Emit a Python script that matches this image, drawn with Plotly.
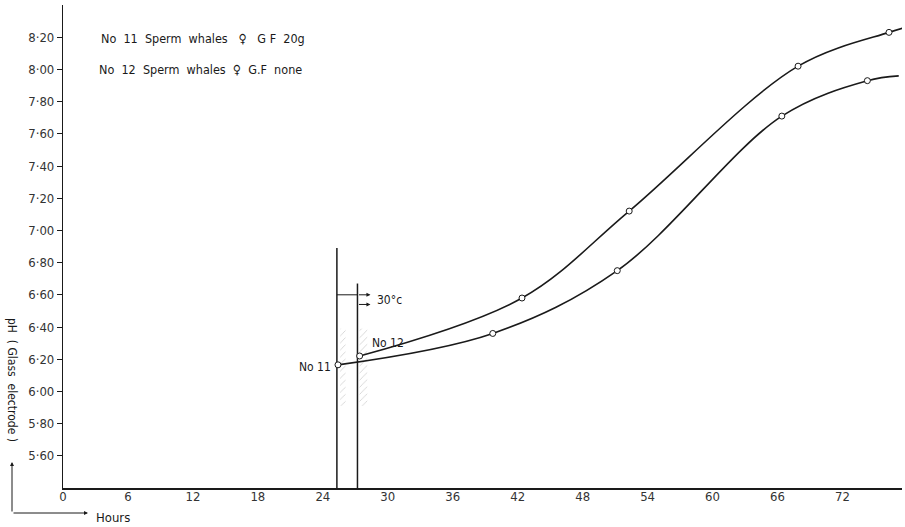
import plotly.graph_objects as go

# ---- data ----
hours_no11 = [25.4, 39.7, 51.2, 66.4, 74.3]
ph_no11 = [6.165, 6.36, 6.75, 7.71, 7.93]
hours_no12 = [27.4, 42.4, 52.3, 67.9, 76.3]
ph_no12 = [6.22, 6.58, 7.12, 8.02, 8.23]
tail_no11 = (77.2, 7.96)
tail_no12 = (77.8, 8.26)

x_ticks = [0, 6, 12, 18, 24, 30, 36, 42, 48, 54, 60, 66, 72]
y_ticks = [5.6, 5.8, 6.0, 6.2, 6.4, 6.6, 6.8, 7.0, 7.2, 7.4, 7.6, 7.8, 8.0, 8.2]
y_ticktext = ["5·60", "5·80", "6·00", "6·20", "6·40", "6·60", "6·80", "7·00",
              "7·20", "7·40", "7·60", "7·80", "8·00", "8·20"]

# vertical markers (start of incubation at 30°C)
vline_no11 = (25.3, 6.89)
vline_no12 = (27.2, 6.67)
hatch_x_no11 = [25.6, 26.1]
hatch_x_no12 = [27.4, 28.1]
hatch_ph = [5.91, 6.39]

FONT = "Liberation Sans Narrow, DejaVu Sans Condensed, Arial Narrow, sans-serif"
INK = "#1a1a1a"

fig = go.Figure()

# hatched zones
for hx in (hatch_x_no11, hatch_x_no12):
    fig.add_trace(go.Scatter(
        x=[hx[0], hx[1], hx[1], hx[0], hx[0]],
        y=[hatch_ph[0], hatch_ph[0], hatch_ph[1], hatch_ph[1], hatch_ph[0]],
        mode="lines", line=dict(width=0, color="rgba(0,0,0,0)"),
        fill="toself", fillcolor="rgba(0,0,0,0)",
        fillpattern=dict(shape="/", fgcolor="#9a9a9a", size=5, solidity=0.15),
        hoverinfo="skip", showlegend=False))

# vertical lines
for vx, vtop in (vline_no11, vline_no12):
    fig.add_trace(go.Scatter(x=[vx, vx], y=[5.40, vtop], mode="lines",
                             line=dict(color=INK, width=1.5),
                             hoverinfo="skip", showlegend=False))

# curves
for hrs, ph, tail in ((hours_no11, ph_no11, tail_no11), (hours_no12, ph_no12, tail_no12)):
    fig.add_trace(go.Scatter(x=hrs + [tail[0]], y=ph + [tail[1]], mode="lines",
                             line=dict(color=INK, width=1.6, shape="spline", smoothing=1.0),
                             hoverinfo="skip", showlegend=False))
    fig.add_trace(go.Scatter(x=hrs, y=ph, mode="markers",
                             marker=dict(symbol="circle", size=6, color="white",
                                         line=dict(color=INK, width=1)),
                             showlegend=False))

# 30°c bracket
fig.add_trace(go.Scatter(x=[vline_no11[0], vline_no12[0]], y=[6.60, 6.60], mode="lines",
                         line=dict(color=INK, width=1), hoverinfo="skip", showlegend=False))

annotations = [
    dict(x=28.4, y=6.60, ax=vline_no12[0], ay=6.60, axref="x", ayref="y",
         showarrow=True, arrowhead=2, arrowsize=0.8, arrowwidth=1, arrowcolor=INK, text=""),
    dict(x=28.4, y=6.54, ax=vline_no12[0], ay=6.54, axref="x", ayref="y",
         showarrow=True, arrowhead=2, arrowsize=0.8, arrowwidth=1, arrowcolor=INK, text=""),
    dict(x=28.8, y=6.57, text="30°c", showarrow=False, xanchor="left",
         font=dict(size=12, color=INK, family=FONT)),
    dict(x=24.9, y=6.15, text="No 11", showarrow=False, xanchor="right",
         font=dict(size=12, color=INK, family=FONT)),
    dict(x=28.4, y=6.30, text="No 12", showarrow=False, xanchor="left",
         font=dict(size=12, color=INK, family=FONT)),
    dict(x=3.3, y=8.19, text="No  11  Sperm  whales   ♀   G F  20g",
         showarrow=False, xanchor="left", font=dict(size=12.5, color=INK, family=FONT)),
    dict(x=3.1, y=8.00, text="No  12  Sperm  whales  ♀  G.F  none",
         showarrow=False, xanchor="left", font=dict(size=12.5, color=INK, family=FONT)),
    # y title (reads top to bottom)
    dict(xref="paper", yref="paper", x=(12 - 63) / 839, y=(488 - 380) / 483,
         xanchor="center", yanchor="middle",
         text="pH  ( Glass  electrode )", textangle=90, showarrow=False,
         font=dict(size=12, color=INK, family=FONT)),
    # corner arrows
    dict(xref="paper", yref="paper", x=(12 - 63) / 839, y=(488 - 462) / 483,
         ax=0, ay=51, axref="pixel", ayref="pixel",
         showarrow=True, arrowhead=2, arrowsize=0.8, arrowwidth=1, arrowcolor=INK, text=""),
    dict(xref="paper", yref="paper", x=(88 - 63) / 839, y=(488 - 513) / 483,
         ax=-76, ay=0, axref="pixel", ayref="pixel",
         showarrow=True, arrowhead=2, arrowsize=0.8, arrowwidth=1, arrowcolor=INK, text=""),
    dict(xref="paper", yref="paper", x=(94 - 63) / 839, y=(488 - 517) / 483,
         xanchor="left", yanchor="middle",
         text="Hours", showarrow=False,
         font=dict(size=13, color=INK, family=FONT)),
]

fig.update_layout(
    width=905, height=527,
    margin=dict(l=63, r=3, t=5, b=39),
    paper_bgcolor="white", plot_bgcolor="white",
    showlegend=False,
    annotations=annotations,
    font=dict(family=FONT, color=INK),
    xaxis=dict(range=[0, 77.5], tickvals=x_ticks, showgrid=False, zeroline=False,
               showline=True, linecolor=INK, linewidth=1.5, ticks="",
               tickfont=dict(size=13, color="#333", family=FONT), ticklabelstandoff=-4),
    yaxis=dict(range=[5.40, 8.40], tickvals=y_ticks, ticktext=y_ticktext,
               showgrid=False, zeroline=False, showline=True, linecolor=INK, linewidth=1.2,
               ticks="outside", ticklen=5, tickcolor=INK,
               tickfont=dict(size=13, color="#333", family=FONT)),
)

fig.write_html("out.html")
